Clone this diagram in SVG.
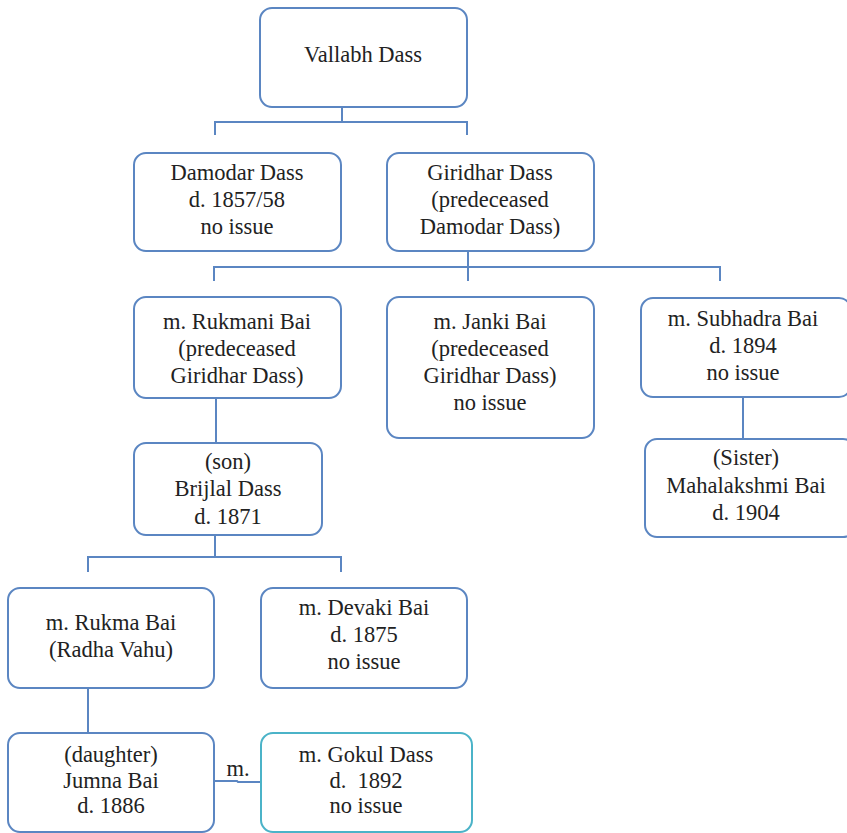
<svg xmlns="http://www.w3.org/2000/svg" width="847" height="833" viewBox="0 0 847 833">
<style>
.box{fill:#fff;stroke:#5b86c2;stroke-width:2}
.teal{fill:#fff;stroke:#4bb3c8;stroke-width:2}
.ln{fill:none;stroke:#5b86c2;stroke-width:2}
text{font-family:"Liberation Serif","DejaVu Serif",serif;font-size:22.5px;fill:#222;text-anchor:middle}
</style>
<rect width="847" height="833" fill="#fff"/>
<g id="connectors">
<path class="ln" d="M342 92V122M215 135V122H467V135"/>
<path class="ln" d="M468 238V281M214 281V267H720V281"/>
<path class="ln" d="M216 398V443"/>
<path class="ln" d="M743 394V439"/>
<path class="ln" d="M215 535V557M88 572V557H341V572"/>
<path class="ln" d="M88 688V733"/>
<path class="ln" d="M214 781H237L238 782H261"/>
<text x="238" y="776">m.</text>
</g>
<g id="vallabh"><rect class="box" x="260" y="8" width="207" height="99" rx="12"/><text x="363" y="62">Vallabh Dass</text></g>
<g id="damodar"><rect class="box" x="134" y="153" width="207" height="98" rx="12"/><text x="237" y="180">Damodar Dass</text><text x="237" y="207">d. 1857/58</text><text x="237" y="234">no issue</text></g>
<g id="giridhar"><rect class="box" x="387" y="153" width="207" height="98" rx="12"/><text x="490" y="180">Giridhar Dass</text><text x="490" y="207">(predeceased</text><text x="490" y="234">Damodar Dass)</text></g>
<g id="rukmani"><rect class="box" x="134" y="297" width="207" height="101" rx="12"/><text x="237" y="329">m. Rukmani Bai</text><text x="237" y="356">(predeceased</text><text x="237" y="383">Giridhar Dass)</text></g>
<g id="janki"><rect class="box" x="387" y="297" width="207" height="141" rx="12"/><text x="490" y="329">m. Janki Bai</text><text x="490" y="356">(predeceased</text><text x="490" y="383">Giridhar Dass)</text><text x="490" y="410">no issue</text></g>
<g id="subhadra"><rect class="box" x="641" y="298" width="210" height="99" rx="12"/><text x="743" y="326">m. Subhadra Bai</text><text x="743" y="353">d. 1894</text><text x="743" y="380">no issue</text></g>
<g id="mahalakshmi"><rect class="box" x="645" y="439" width="210" height="98" rx="12"/><text x="746" y="465">(Sister)</text><text x="746" y="493">Mahalakshmi Bai</text><text x="746" y="520">d. 1904</text></g>
<g id="brijlal"><rect class="box" x="134" y="443" width="188" height="92" rx="12"/><text x="228" y="469">(son)</text><text x="228" y="496">Brijlal Dass</text><text x="228" y="524">d. 1871</text></g>
<g id="rukma"><rect class="box" x="8" y="588" width="206" height="100" rx="12"/><text x="111" y="630">m. Rukma Bai</text><text x="111" y="657">(Radha Vahu)</text></g>
<g id="devaki"><rect class="box" x="261" y="588" width="206" height="100" rx="12"/><text x="364" y="615">m. Devaki Bai</text><text x="364" y="642">d. 1875</text><text x="364" y="669">no issue</text></g>
<g id="jumna"><rect class="box" x="8" y="733" width="206" height="99" rx="12"/><text x="111" y="762">(daughter)</text><text x="111" y="788">Jumna Bai</text><text x="111" y="813">d. 1886</text></g>
<g id="gokul"><rect class="teal" x="261" y="733" width="211" height="99" rx="12"/><text x="366" y="762">m. Gokul Dass</text><text x="366" y="788" xml:space="preserve">d.  1892</text><text x="366" y="813">no issue</text></g>
</svg>
